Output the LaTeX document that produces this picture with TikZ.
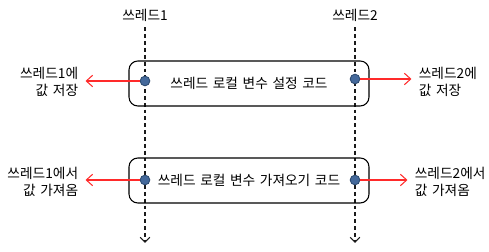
\documentclass[tikz,border=0pt]{standalone}
\usepackage{fontspec}
\setmainfont[WordSpace=1.5]{Noto Sans CJK KR}
\usetikzlibrary{arrows.meta}
\definecolor{dotblue}{HTML}{44699B}
\definecolor{dotedge}{HTML}{2C4A70}
\definecolor{linkred}{HTML}{FF2A2A}
\definecolor{lifegray}{HTML}{1A1A1A}

\tikzset{
  codebox/.style={draw, line width=0.6pt, rounded corners=5pt,
    minimum width=4.8cm, minimum height=0.9cm, inner sep=0pt},
  lifeline/.style={draw=lifegray, line width=0.6pt, dash pattern=on 2.2pt off 1.7pt,
    -{Straight Barb[length=2.8pt,width=5.5pt]}},
  slotdot/.style={circle, fill=dotblue, draw=dotedge, line width=0.5pt,
    minimum size=5.5pt, inner sep=0pt},
  storelink/.style={draw=linkred, line width=0.6pt,
    -{Straight Barb[length=3.6pt,width=6.5pt]}, shorten >=2pt},
  sidenote/.style={inner sep=2pt}
}

\begin{document}
\begin{tikzpicture}[x=0.02cm, y=-0.02cm, font=\fontsize{7.8}{9.6}\selectfont]
  \useasboundingbox (0,0) rectangle (489,252);

  % threads
  \node (t1) at (145,15) {쓰레드1};
  \node (t2) at (355,15) {쓰레드2};
  \coordinate (e1) at (145,243);
  \coordinate (e2) at (355,243);
  \draw[lifeline] (t1.south) -- (e1);
  \draw[lifeline] (t2.south) -- (e2);

  % code blocks
  \node[codebox] (setcode) at (249,83.5) {쓰레드 로컬 변수 설정 코드};
  \node[codebox] (getcode) at (249,180.5) {쓰레드 로컬 변수 가져오기 코드};

  % side notes
  \node[sidenote, anchor=east, align=right] (s1) at (82,81.5) {쓰레드1에\\값 저장};
  \node[sidenote, anchor=west, align=left] (s2) at (415,81.5) {쓰레드2에\\값 저장};
  \node[sidenote, anchor=east, align=right] (g1) at (82,181.5) {쓰레드1에서\\값 가져옴};
  \node[sidenote, anchor=west, align=left] (g2) at (411,181.5) {쓰레드2에서\\값 가져옴};

  % slots
  \node[slotdot] (d1) at (145,81) {};
  \node[slotdot] (d2) at (355,79) {};
  \node[slotdot] (d3) at (145,180) {};
  \node[slotdot] (d4) at (355,180) {};

  \draw[storelink] (d1) -- (d1 -| s1.east);
  \draw[storelink] (d2) -- (d2 -| s2.west);
  \draw[storelink] (d3) -- (d3 -| g1.east);
  \draw[storelink] (d4) -- (d4 -| g2.west);
\end{tikzpicture}
\end{document}
